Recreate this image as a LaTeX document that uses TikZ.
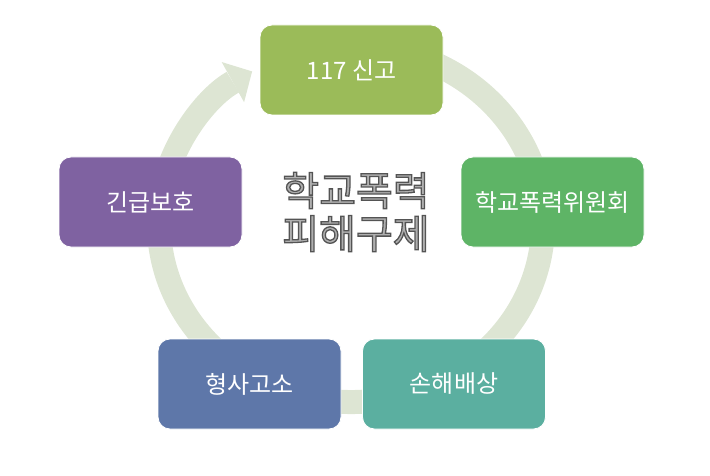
\documentclass[tikz,border=0pt]{standalone}
\usepackage{fontspec}
\usepackage{xcolor}
\usepackage{tikz}
\usetikzlibrary{arrows.meta}
\newfontfamily\kofont{Noto Sans CJK KR}
\definecolor{ringcol}{RGB}{221,229,211}
\definecolor{olivebox}{RGB}{155,187,89}
\definecolor{greenbox}{RGB}{94,180,102}
\definecolor{tealbox}{RGB}{91,175,160}
\definecolor{bluebox}{RGB}{94,119,169}
\definecolor{purplebox}{RGB}{127,98,161}
\definecolor{titlegray}{RGB}{175,175,175}
\tikzstyle{stage}=[rectangle,rounded corners=12pt,minimum width=183pt,minimum height=90pt,inner sep=0pt,draw=white,line width=0.8pt,text=white,font=\kofont\fontsize{24}{28}\selectfont]
\tikzstyle{ring}=[draw=ringcol,line width=24pt]
\newcommand{\outlined}[1]{\special{pdf:literal direct 2 Tr 1.3 w 0.33 0.33 0.33 RG}#1\special{pdf:literal direct 0 Tr}}

\begin{document}
\begin{tikzpicture}[x=1pt,y=-1pt]
\useasboundingbox (0,0) rectangle (710,476);
\coordinate (hub) at (351,224);
  \draw[ring,-{Triangle[width=46pt,length=22pt,line width=0pt]}]
    (hub) ++(-75:192 and 178)
     arc[start angle=-75,end angle=239,x radius=192,y radius=178];
\node[stage,fill=olivebox] (report) at (351.5,70) {117 신고};
\node[stage,fill=greenbox] (committee) at (552.5,202) {학교폭력위원회};
\node[stage,fill=tealbox] (damages) at (454,384) {손해배상};
\node[stage,fill=bluebox] (charge) at (249.5,384) {형사고소};
\node[stage,fill=purplebox] (protect) at (150.5,202) {긴급보호};
  \node[text=titlegray,align=center,font=\kofont\fontsize{40}{43}\selectfont]
     (title) at (356,212) {\outlined{학교폭력}\\\outlined{피해구제}};
\end{tikzpicture}
\end{document}
